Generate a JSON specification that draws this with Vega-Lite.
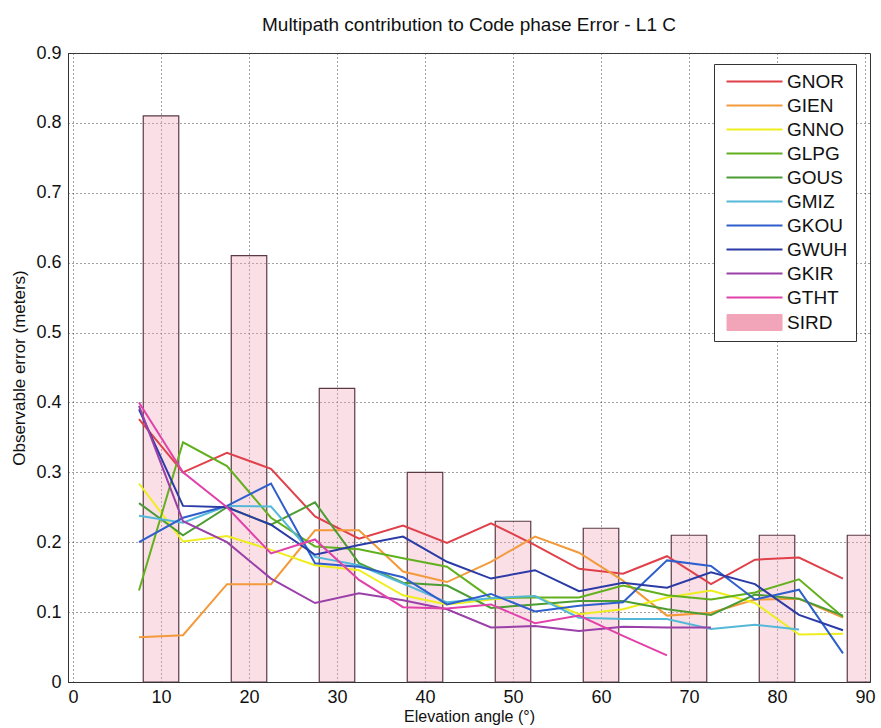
{
  "$schema": "https://vega.github.io/schema/vega-lite/v6.json",
  "width": 802,
  "height": 629,
  "autosize": {"type": "none"},
  "padding": {"left": 68, "top": 53, "right": 11, "bottom": 46},
  "background": "white",
  "title": {
    "text": "Multipath contribution to Code phase Error - L1  C",
    "font": "Liberation Sans",
    "fontSize": 19,
    "fontWeight": "normal",
    "color": "#111",
    "anchor": "middle",
    "offset": 9
  },
  "config": {
    "view": {"stroke": "#333", "strokeWidth": 1},
    "axis": {
      "labelFont": "Liberation Sans",
      "labelFontSize": 18,
      "labelColor": "#111",
      "titleFont": "Liberation Sans",
      "titleFontSize": 17,
      "titleFontWeight": "normal",
      "titleColor": "#111",
      "domainColor": "#333",
      "ticks": false,
      "grid": true,
      "gridColor": "#444",
      "gridDash": [1, 3],
      "gridWidth": 1
    }
  },
  "datasets": {
    "bars": [
      {"a": 10, "e": 0.81}, {"a": 20, "e": 0.61}, {"a": 30, "e": 0.42},
      {"a": 40, "e": 0.30}, {"a": 50, "e": 0.23}, {"a": 60, "e": 0.22},
      {"a": 70, "e": 0.21}, {"a": 80, "e": 0.21}, {"a": 90, "e": 0.21}
    ],
    "lines": [
      {"s":"GNOR","a":7.5,"e":0.376},{"s":"GNOR","a":12.5,"e":0.30},{"s":"GNOR","a":17.5,"e":0.328},{"s":"GNOR","a":22.5,"e":0.305},{"s":"GNOR","a":27.5,"e":0.237},{"s":"GNOR","a":32.5,"e":0.205},{"s":"GNOR","a":37.5,"e":0.224},{"s":"GNOR","a":42.5,"e":0.199},{"s":"GNOR","a":47.5,"e":0.227},{"s":"GNOR","a":52.5,"e":0.196},{"s":"GNOR","a":57.5,"e":0.162},{"s":"GNOR","a":62.5,"e":0.155},{"s":"GNOR","a":67.5,"e":0.18},{"s":"GNOR","a":72.5,"e":0.14},{"s":"GNOR","a":77.5,"e":0.175},{"s":"GNOR","a":82.5,"e":0.178},{"s":"GNOR","a":87.5,"e":0.148},
      {"s":"GIEN","a":7.5,"e":0.064},{"s":"GIEN","a":12.5,"e":0.067},{"s":"GIEN","a":17.5,"e":0.14},{"s":"GIEN","a":22.5,"e":0.14},{"s":"GIEN","a":27.5,"e":0.217},{"s":"GIEN","a":32.5,"e":0.217},{"s":"GIEN","a":37.5,"e":0.158},{"s":"GIEN","a":42.5,"e":0.143},{"s":"GIEN","a":47.5,"e":0.172},{"s":"GIEN","a":52.5,"e":0.208},{"s":"GIEN","a":57.5,"e":0.185},{"s":"GIEN","a":62.5,"e":0.145},{"s":"GIEN","a":67.5,"e":0.095},{"s":"GIEN","a":72.5,"e":0.099},{"s":"GIEN","a":77.5,"e":0.118},{"s":"GIEN","a":82.5,"e":0.119},{"s":"GIEN","a":87.5,"e":0.092},
      {"s":"GNNO","a":7.5,"e":0.284},{"s":"GNNO","a":12.5,"e":0.201},{"s":"GNNO","a":17.5,"e":0.209},{"s":"GNNO","a":22.5,"e":0.189},{"s":"GNNO","a":27.5,"e":0.167},{"s":"GNNO","a":32.5,"e":0.16},{"s":"GNNO","a":37.5,"e":0.124},{"s":"GNNO","a":42.5,"e":0.111},{"s":"GNNO","a":47.5,"e":0.118},{"s":"GNNO","a":52.5,"e":0.123},{"s":"GNNO","a":57.5,"e":0.097},{"s":"GNNO","a":62.5,"e":0.104},{"s":"GNNO","a":67.5,"e":0.121},{"s":"GNNO","a":72.5,"e":0.131},{"s":"GNNO","a":77.5,"e":0.113},{"s":"GNNO","a":82.5,"e":0.068},{"s":"GNNO","a":87.5,"e":0.069},
      {"s":"GLPG","a":7.5,"e":0.131},{"s":"GLPG","a":12.5,"e":0.343},{"s":"GLPG","a":17.5,"e":0.309},{"s":"GLPG","a":22.5,"e":0.235},{"s":"GLPG","a":27.5,"e":0.194},{"s":"GLPG","a":32.5,"e":0.19},{"s":"GLPG","a":37.5,"e":0.177},{"s":"GLPG","a":42.5,"e":0.165},{"s":"GLPG","a":47.5,"e":0.12},{"s":"GLPG","a":52.5,"e":0.121},{"s":"GLPG","a":57.5,"e":0.121},{"s":"GLPG","a":62.5,"e":0.138},{"s":"GLPG","a":67.5,"e":0.124},{"s":"GLPG","a":72.5,"e":0.118},{"s":"GLPG","a":77.5,"e":0.128},{"s":"GLPG","a":82.5,"e":0.147},{"s":"GLPG","a":87.5,"e":0.093},
      {"s":"GOUS","a":7.5,"e":0.256},{"s":"GOUS","a":12.5,"e":0.21},{"s":"GOUS","a":17.5,"e":0.25},{"s":"GOUS","a":22.5,"e":0.225},{"s":"GOUS","a":27.5,"e":0.257},{"s":"GOUS","a":32.5,"e":0.17},{"s":"GOUS","a":37.5,"e":0.142},{"s":"GOUS","a":42.5,"e":0.138},{"s":"GOUS","a":47.5,"e":0.106},{"s":"GOUS","a":52.5,"e":0.111},{"s":"GOUS","a":57.5,"e":0.116},{"s":"GOUS","a":62.5,"e":0.116},{"s":"GOUS","a":67.5,"e":0.104},{"s":"GOUS","a":72.5,"e":0.096},{"s":"GOUS","a":77.5,"e":0.125},{"s":"GOUS","a":82.5,"e":0.119},{"s":"GOUS","a":87.5,"e":0.095},
      {"s":"GMIZ","a":7.5,"e":0.238},{"s":"GMIZ","a":12.5,"e":0.228},{"s":"GMIZ","a":17.5,"e":0.252},{"s":"GMIZ","a":22.5,"e":0.251},{"s":"GMIZ","a":27.5,"e":0.179},{"s":"GMIZ","a":32.5,"e":0.167},{"s":"GMIZ","a":37.5,"e":0.141},{"s":"GMIZ","a":42.5,"e":0.114},{"s":"GMIZ","a":47.5,"e":0.12},{"s":"GMIZ","a":52.5,"e":0.123},{"s":"GMIZ","a":57.5,"e":0.092},{"s":"GMIZ","a":62.5,"e":0.09},{"s":"GMIZ","a":67.5,"e":0.09},{"s":"GMIZ","a":72.5,"e":0.076},{"s":"GMIZ","a":77.5,"e":0.082},{"s":"GMIZ","a":82.5,"e":0.075},
      {"s":"GKOU","a":7.5,"e":0.20},{"s":"GKOU","a":12.5,"e":0.235},{"s":"GKOU","a":17.5,"e":0.252},{"s":"GKOU","a":22.5,"e":0.284},{"s":"GKOU","a":27.5,"e":0.17},{"s":"GKOU","a":32.5,"e":0.165},{"s":"GKOU","a":37.5,"e":0.15},{"s":"GKOU","a":42.5,"e":0.111},{"s":"GKOU","a":47.5,"e":0.126},{"s":"GKOU","a":52.5,"e":0.101},{"s":"GKOU","a":57.5,"e":0.109},{"s":"GKOU","a":62.5,"e":0.114},{"s":"GKOU","a":67.5,"e":0.174},{"s":"GKOU","a":72.5,"e":0.166},{"s":"GKOU","a":77.5,"e":0.118},{"s":"GKOU","a":82.5,"e":0.132},{"s":"GKOU","a":87.5,"e":0.041},
      {"s":"GWUH","a":7.5,"e":0.39},{"s":"GWUH","a":12.5,"e":0.252},{"s":"GWUH","a":17.5,"e":0.25},{"s":"GWUH","a":22.5,"e":0.225},{"s":"GWUH","a":27.5,"e":0.182},{"s":"GWUH","a":32.5,"e":0.196},{"s":"GWUH","a":37.5,"e":0.208},{"s":"GWUH","a":42.5,"e":0.172},{"s":"GWUH","a":47.5,"e":0.148},{"s":"GWUH","a":52.5,"e":0.16},{"s":"GWUH","a":57.5,"e":0.13},{"s":"GWUH","a":62.5,"e":0.142},{"s":"GWUH","a":67.5,"e":0.135},{"s":"GWUH","a":72.5,"e":0.157},{"s":"GWUH","a":77.5,"e":0.14},{"s":"GWUH","a":82.5,"e":0.096},{"s":"GWUH","a":87.5,"e":0.074},
      {"s":"GKIR","a":7.5,"e":0.395},{"s":"GKIR","a":12.5,"e":0.23},{"s":"GKIR","a":17.5,"e":0.2},{"s":"GKIR","a":22.5,"e":0.148},{"s":"GKIR","a":27.5,"e":0.113},{"s":"GKIR","a":32.5,"e":0.127},{"s":"GKIR","a":37.5,"e":0.117},{"s":"GKIR","a":42.5,"e":0.104},{"s":"GKIR","a":47.5,"e":0.078},{"s":"GKIR","a":52.5,"e":0.08},{"s":"GKIR","a":57.5,"e":0.073},{"s":"GKIR","a":62.5,"e":0.079},{"s":"GKIR","a":67.5,"e":0.078},{"s":"GKIR","a":72.5,"e":0.078},
      {"s":"GTHT","a":7.5,"e":0.40},{"s":"GTHT","a":12.5,"e":0.30},{"s":"GTHT","a":17.5,"e":0.25},{"s":"GTHT","a":22.5,"e":0.184},{"s":"GTHT","a":27.5,"e":0.204},{"s":"GTHT","a":32.5,"e":0.146},{"s":"GTHT","a":37.5,"e":0.107},{"s":"GTHT","a":42.5,"e":0.105},{"s":"GTHT","a":47.5,"e":0.111},{"s":"GTHT","a":52.5,"e":0.084},{"s":"GTHT","a":57.5,"e":0.095},{"s":"GTHT","a":62.5,"e":0.066},{"s":"GTHT","a":67.5,"e":0.038}
    ]
  },
  "layer": [
    {
      "data": {"name": "bars"},
      "mark": {"type": "bar", "orient": "vertical", "width": 35.5, "clip": true, "fillOpacity": 0.35, "stroke": "#5b3a42", "strokeWidth": 1.2},
      "encoding": {
        "x": {"field": "a", "type": "quantitative", "scale": {"domain": [0, 90], "nice": false},
              "axis": {"title": "Elevation angle (°)", "values": [0,10,20,30,40,50,60,70,80,90], "labelPadding": 6, "titlePadding": 2, "titleFontSize": 16}},
        "y": {"field": "e", "type": "quantitative", "scale": {"domain": [0, 0.9], "nice": false},
              "axis": {"title": "Observable error (meters)", "values": [0,0.1,0.2,0.3,0.4,0.5,0.6,0.7,0.8,0.9], "labelPadding": 7, "titlePadding": 7,
                       "labelExpr": "datum.value == 0 ? '0' : format(datum.value, '.1f')"}},
        "color": {"datum": "SIRD", "type": "nominal"}
      }
    },
    {
      "data": {"name": "lines"},
      "mark": {"type": "line", "strokeWidth": 2, "clip": true},
      "encoding": {
        "x": {"field": "a", "type": "quantitative"},
        "y": {"field": "e", "type": "quantitative"},
        "color": {
          "field": "s", "type": "nominal",
          "scale": {
            "domain": ["GNOR","GIEN","GNNO","GLPG","GOUS","GMIZ","GKOU","GWUH","GKIR","GTHT","SIRD"],
            "range": ["#e0404a","#f39a3a","#eeee1e","#62b01e","#4c9c34","#54b8d8","#2f5fcc","#2a3aa6","#9a40a8","#e042aa","#f2a4b8"]
          },
          "legend": {
            "title": null,
            "orient": "none",
            "legendX": 646,
            "legendY": 11,
            "symbolSize": 400,
            "symbolOffset": 23,
            "labelOffset": 23,
            "labelFont": "Liberation Sans",
            "labelFontSize": 19,
            "labelColor": "#111",
            "padding": 8,
            "rowPadding": 4,
            "strokeColor": "#333",
            "fillColor": "white",
            "symbolStrokeWidth": 2,
            "encode": {
              "symbols": {
                "update": {
                  "shape": {"signal": "datum.value === 'SIRD' ? 'M-2.75,-0.8H2.75V0.8H-2.75Z' : 'M-2.8,0H2.8'"},
                  "fill": {"signal": "datum.value === 'SIRD' ? '#f2a4b8' : 'transparent'"},
                  "stroke": {"signal": "datum.value === 'SIRD' ? '#5b3a42' : scale('color', datum.value)"},
                  "strokeWidth": {"signal": "datum.value === 'SIRD' ? 1 : 2"},
                  "opacity": {"value": 1},
                  "fillOpacity": {"value": 1}
                }
              }
            }
          }
        }
      }
    }
  ]
}
